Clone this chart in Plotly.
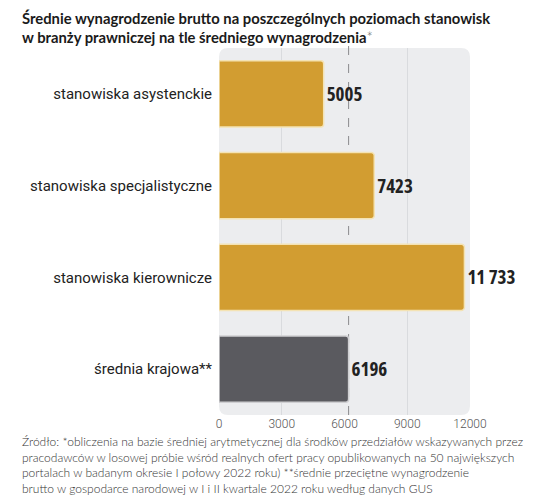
import plotly.graph_objects as go

# data
categories = ["stanowiska asystenckie", "stanowiska specjalistyczne",
              "stanowiska kierownicze", "średnia krajowa**"]
values = [5005, 7423, 11733, 6196]
national_avg = 6196
tick_vals = [0, 3000, 6000, 9000, 12000]
tick_text = ["0", "3000", "6000", "9000", "12000"]
grid_vals = [3000, 9000]

title_text = ("Średnie wynagrodzenie brutto na poszczególnych poziomach stanowisk<br>"
              "w branży prawniczej na tle średniego wynagrodzenia"
              "<span style='font-weight:300;color:#666'>*</span>")
source_text = ("Źródło: *obliczenia na bazie średniej arytmetycznej dla środków przedziałów wskazywanych przez<br>"
               "pracodawców w losowej próbie wśród realnych ofert pracy opublikowanych na 50 największych<br>"
               "portalach w badanym okresie I połowy 2022 roku) **średnie przeciętne wynagrodzenie<br>"
               "brutto w gospodarce narodowej w I i II kwartale 2022 roku według danych GUS")


def fmt(v):
    # polish style: no separator for 4 digits
    if v >= 10000:
        s = f"{v:,}".replace(",", " ")
    else:
        s = str(v)
    return f"<span style='font-stretch:75%'>{s}</span>"


gold = "#D29D31"
dark = "#5A5A5F"
colors = [gold, gold, gold, dark]
outlines = ["#F4E3B4", "#F4E3B4", "#F4E3B4", "#CFCFD2"]

# page body has an 8px margin, so the figure is 8px smaller than the window
W, H = 528, 493
ml, mr, mt, mb = 211, 66, 40, 86
pw = W - ml - mr
ph = H - mt - mb


def px2x(px):
    return (px - 8 - ml) / pw


def py2y(py):
    return (H - mb - (py - 8)) / ph


fig = go.Figure(go.Bar(
    x=values,
    y=categories,
    orientation="h",
    width=0.72,
    marker=dict(color=colors, line=dict(color=outlines, width=1.5), cornerradius=3),
    text=[fmt(v) for v in values],
    textposition="outside",
    textfont=dict(family="Open Sans", size=19, color="#222222", weight="bold"),
    cliponaxis=False,
    hoverinfo="skip",
))

# rounded background panel
rx = 9 / pw
ry = 9 / ph
path = (f"M {rx},0 L {1-rx},0 Q 1,0 1,{ry} L 1,{1-ry} Q 1,1 {1-rx},1 "
        f"L {rx},1 Q 0,1 0,{1-ry} L 0,{ry} Q 0,0 {rx},0 Z")
fig.add_shape(type="path", path=path, xref="x domain", yref="y domain",
              fillcolor="#ECEDEF", line=dict(width=0), layer="below")

# national average dashed line
fig.add_shape(type="line", x0=national_avg, x1=national_avg, y0=0, y1=1.008,
              xref="x", yref="y domain", line=dict(color="#8A8A8E", width=1, dash="dash"),
              layer="below")

fig.update_layout(
    width=W, height=H,
    margin=dict(l=ml, r=mr, t=mt, b=mb, autoexpand=False),
    paper_bgcolor="white",
    plot_bgcolor="rgba(0,0,0,0)",
    showlegend=False,
    xaxis=dict(range=[0, 12000], tickvals=tick_vals, ticktext=tick_text,
               showgrid=False, zeroline=False, showline=False, ticks="", automargin=False,
               minor=dict(tickvals=grid_vals, showgrid=True, gridcolor="#D9DBDE",
                          gridwidth=1, ticks=""),
               tickfont=dict(family="Roboto", size=12, color="#555555", weight=300)),
    yaxis=dict(range=[3.5, -0.5], autorange=False, showgrid=False, zeroline=False,
               ticks="", ticklabelstandoff=6, automargin=False,
               tickfont=dict(family="Roboto", size=15, color="#222222")),
    annotations=[
        dict(text=title_text, xref="paper", yref="paper",
             x=px2x(21), y=py2y(8), xanchor="left", yanchor="top",
             align="left", showarrow=False, borderpad=0,
             font=dict(family="Lato", size=14.8, color="#1A1A1A", weight="bold")),
        dict(text=source_text, xref="paper", yref="paper",
             x=px2x(20), y=py2y(432), xanchor="left", yanchor="top",
             align="left", showarrow=False,
             font=dict(family="Lato", size=12, color="#333333", weight=300)),
    ],
)

fig.write_html("out.html")
